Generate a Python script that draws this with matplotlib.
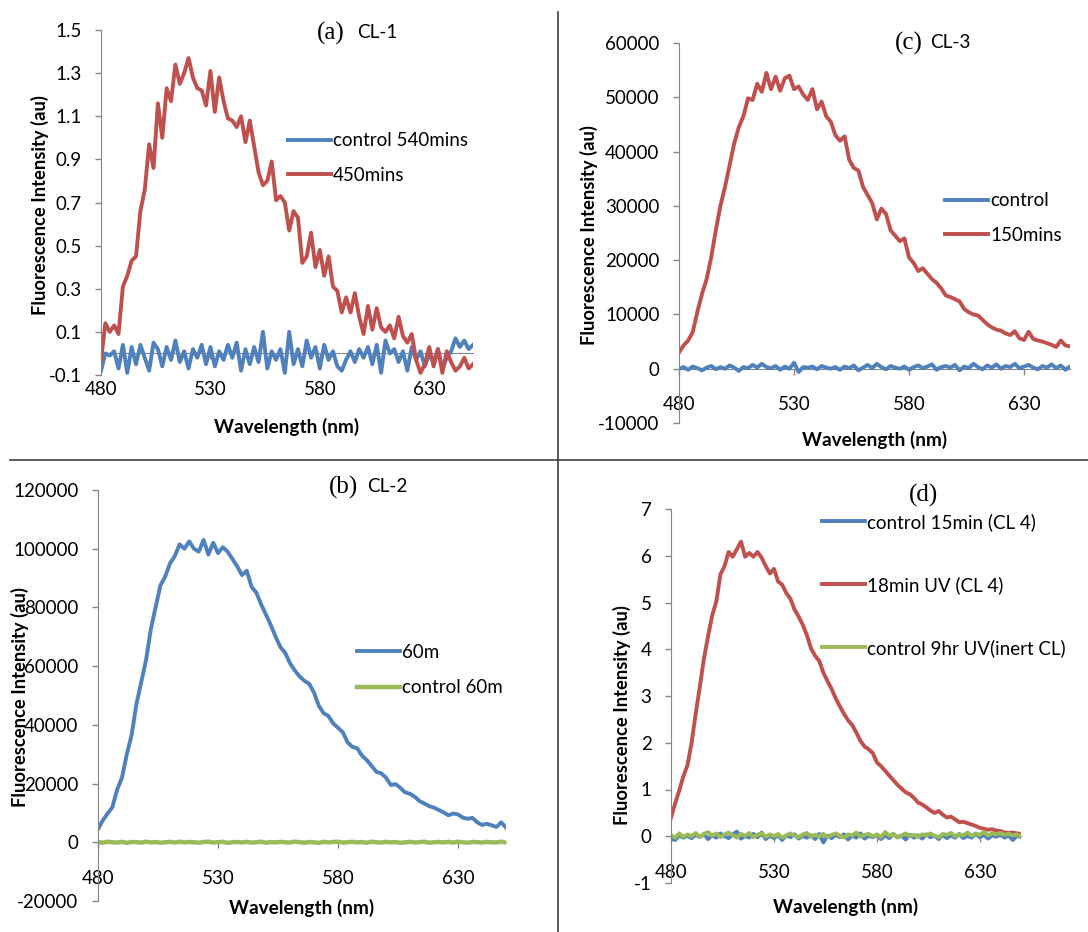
import numpy as np
import matplotlib
matplotlib.use('Agg')
import matplotlib.pyplot as plt
from matplotlib.lines import Line2D

plt.rcParams['font.family'] = ['Lato', 'DejaVu Sans']
plt.rcParams['axes.unicode_minus'] = False

# longitud de onda (nm), paso de 2 nm
wl = np.arange(480, 652, 2)
x_ticks = [480, 530, 580, 630]

# (a) CL-1
a_control = [-0.08, 0.00, -0.01, 0.01, -0.07, 0.04, -0.09, 0.03, -0.05, 0.04,
             -0.02, -0.08, 0.05, 0.02, -0.06, 0.03, -0.03, 0.06, -0.04, 0.01,
             -0.07, 0.02, -0.02, 0.04, -0.05, 0.03, -0.06, 0.01, -0.03, 0.04,
             -0.02, 0.05, -0.08, 0.02, -0.05, 0.03, -0.04, 0.10, -0.07, 0.01,
             -0.03, 0.02, -0.09, 0.10, -0.05, 0.02, -0.06, 0.06, -0.02, 0.03,
             -0.07, 0.04, -0.03, 0.01, -0.06, -0.08, -0.03, 0.01, -0.04, 0.02,
             -0.02, 0.03, -0.05, 0.04, -0.09, 0.06, 0.00, 0.02, -0.04, 0.01,
             -0.08, 0.03, -0.03, 0.01, -0.06, 0.00, -0.04, 0.02, -0.07, -0.02,
             0.01, 0.07, 0.03, 0.06, 0.02, 0.04]
a_450 = [-0.03, 0.14, 0.10, 0.13, 0.09, 0.31, 0.36, 0.43, 0.45, 0.66,
         0.76, 0.97, 0.86, 1.16, 1.00, 1.23, 1.17, 1.34, 1.25, 1.30,
         1.37, 1.28, 1.23, 1.22, 1.15, 1.31, 1.12, 1.28, 1.17, 1.09,
         1.08, 1.05, 1.10, 0.98, 1.08, 0.96, 0.84, 0.78, 0.80, 0.89,
         0.71, 0.73, 0.70, 0.57, 0.66, 0.63, 0.42, 0.45, 0.56, 0.40,
         0.48, 0.36, 0.45, 0.31, 0.29, 0.19, 0.26, 0.19, 0.28, 0.17,
         0.09, 0.22, 0.11, 0.21, 0.12, 0.10, 0.13, 0.07, 0.17, 0.08,
         0.05, 0.09, -0.03, -0.09, -0.05, 0.03, -0.06, 0.02, -0.09, 0.01,
         -0.04, -0.08, -0.06, -0.02, -0.07, -0.05]

# (b) CL-2
b_60m = [4500, 7500, 9800, 12000, 18000, 22000, 30000, 36500, 47000, 54500,
         62000, 72500, 80000, 87500, 90500, 95000, 97500, 101500, 100000, 102500,
         100000, 99000, 103000, 98000, 102000, 98500, 100500, 99000, 96500, 94000,
         91000, 92500, 87000, 85000, 81000, 77500, 74000, 70000, 66500, 64500,
         61000, 58500, 56500, 55000, 54000, 51000, 46500, 44000, 43000, 40500,
         39000, 37500, 34000, 32500, 32000, 29500, 28000, 26000, 24000, 23500,
         22000, 19500, 19800, 18500, 17000, 16500, 15500, 14000, 13200, 12300,
         11800, 11000, 10200, 9200, 9800, 9500, 8400, 8000, 8300, 6800,
         5900, 6300, 5800, 5200, 6800, 5000]
b_control = [100, -150, 200, 0, -100, 150, -200, 100, 50, -100,
             200, -50, 100, -150, 0, 150, -100, 200, -50, 100,
             0, -150, 100, 200, -100, 50, 150, -200, 0, 100,
             -50, 150, -100, 0, 200, -150, 100, -50, 150, 0,
             -100, 200, 50, -150, 100, 0, -200, 150, -50, 100,
             200, -100, 0, 150, -50, 100, -150, 200, 0, -100,
             150, -50, 100, -200, 0, 150, -100, 50, 200, -150,
             0, 100, -50, 150, -100, 200, 0, -150, 100, 50,
             -100, 150, 0, -50, 200, -100]

# (c) CL-3
c_control = [0, 300, -200, 400, 100, -300, 200, 500, -100, 300,
             0, 600, 200, -400, 300, 100, 700, 200, 900, 300,
             100, 500, -200, 400, 0, 1100, -600, 300, 200, 400,
             -100, 500, 200, 0, 300, -200, 400, 100, 600, -300,
             200, 700, 100, 900, 300, -100, 500, 200, 0, 400,
             -200, 300, 600, 100, 400, 800, -200, 300, 500, 200,
             700, -300, 400, 100, 900, 300, -100, 600, 200, 800,
             0, 500, 300, 900, 100, 400, 700, 200, -100, 500,
             200, 800, 100, 600, -200, 400]
c_150 = [3000, 4300, 5200, 6800, 10500, 13800, 16500, 20500, 25500, 30000,
         33500, 37500, 41500, 44500, 46500, 49800, 49500, 52500, 51000, 54500,
         51500, 53800, 51200, 53500, 54000, 51500, 52000, 50500, 49500, 51500,
         47800, 49200, 46500, 45500, 43000, 42000, 42800, 38500, 37000, 36500,
         33500, 32000, 30500, 27500, 29500, 28500, 25500, 24500, 23500, 24000,
         20500, 19500, 18000, 18500, 17500, 16500, 15800, 14800, 13500, 13200,
         12800, 12400, 11000, 10400, 10000, 9800, 9000, 8200, 7600, 7200,
         7000, 6500, 6200, 6900, 5600, 5300, 6800, 5500, 5200, 5000,
         4700, 4400, 4000, 5200, 4300, 4100]

# (d) CL 4
d_control15 = [-0.05, -0.08, 0.02, -0.03, 0.01, -0.04, 0.03, -0.02, 0.05, -0.06,
               0.02, -0.03, 0.06, 0.00, -0.04, 0.04, 0.10, -0.05, 0.01, -0.03,
               0.05, -0.02, 0.08, -0.06, 0.01, -0.04, 0.03, -0.08, 0.02, -0.02,
               0.04, -0.05, 0.01, -0.03, 0.02, -0.06, 0.05, -0.13, 0.01, -0.04,
               0.03, -0.02, 0.04, -0.07, 0.02, -0.03, 0.06, -0.05, 0.01, -0.02,
               0.03, -0.06, 0.02, -0.04, 0.05, -0.02, 0.01, -0.07, 0.03, -0.03,
               0.02, -0.05, 0.04, -0.02, 0.01, -0.06, 0.03, -0.04, 0.02, -0.03,
               0.05, -0.04, 0.01, -0.03, 0.06, -0.02, 0.03, -0.05, 0.02, -0.01,
               0.04, -0.03, 0.02, -0.08, 0.01, -0.02]
d_18uv = [0.40, 0.70, 0.98, 1.28, 1.52, 2.00, 2.62, 3.20, 3.80, 4.28,
          4.72, 5.02, 5.60, 5.78, 6.08, 5.98, 6.14, 6.30, 5.98, 6.06,
          5.98, 6.08, 5.96, 5.78, 5.62, 5.72, 5.45, 5.38, 5.20, 5.08,
          4.85, 4.70, 4.52, 4.30, 4.02, 3.86, 3.75, 3.50, 3.32, 3.15,
          2.95, 2.78, 2.62, 2.48, 2.38, 2.22, 2.04, 1.92, 1.86, 1.78,
          1.58, 1.50, 1.40, 1.30, 1.20, 1.10, 1.02, 0.94, 0.90, 0.82,
          0.72, 0.68, 0.62, 0.55, 0.50, 0.54, 0.46, 0.40, 0.42, 0.36,
          0.30, 0.31, 0.28, 0.25, 0.22, 0.18, 0.16, 0.14, 0.15, 0.12,
          0.11, 0.08, 0.07, 0.08, 0.06, 0.05]
d_inert = [0.02, -0.03, 0.06, -0.01, 0.04, 0.00, 0.07, -0.02, 0.05, 0.09,
           0.01, 0.06, -0.02, 0.04, 0.08, 0.02, -0.03, 0.05, 0.01, 0.07,
           -0.02, 0.03, 0.06, -0.01, 0.04, 0.00, 0.05, -0.03, 0.02, 0.06,
           0.01, -0.02, 0.04, 0.07, -0.01, 0.03, 0.00, 0.05, -0.02, 0.03,
           0.06, 0.01, -0.03, 0.04, 0.02, 0.08, -0.01, 0.03, 0.05, 0.00,
           0.04, -0.02, 0.09, 0.01, 0.05, -0.03, 0.02, 0.06, 0.00, 0.03,
           -0.01, 0.04, 0.02, 0.06, 0.01, -0.02, 0.05, 0.03, 0.07, 0.00,
           0.04, 0.02, 0.08, 0.01, 0.05, 0.03, 0.09, 0.02, 0.06, 0.04,
           0.07, 0.03, 0.05, 0.02, 0.04, -0.01]

BLUE = '#4F81BD'
RED = '#C0504D'
GREEN = '#9BBB59'
GRAY = '#868686'
LW = 2.8

W, H = 1088, 932
fig = plt.figure(figsize=(W / 100, H / 100), dpi=100)


def caja(l, t, r, b):
    # rectangulo en pixeles -> coordenadas de figura
    return [l / W, 1 - b / H, (r - l) / W, (b - t) / H]


def pt(x, y):
    return (x / W, 1 - y / H)


def preparar(ax, ylim, paso, fmt, xlab_y, ylab_xy):
    ax.set_xlim(480, 650)
    ax.set_ylim(*ylim)
    ticks = np.arange(ylim[0], ylim[1] + paso / 2, paso)
    ax.set_yticks(ticks)
    ax.set_yticklabels([fmt(t) for t in ticks])
    ax.set_xticks(x_ticks)
    ax.set_xticklabels([str(t) for t in x_ticks])
    for s in ('top', 'right'):
        ax.spines[s].set_visible(False)
    ax.spines['left'].set_color(GRAY)
    ax.spines['bottom'].set_position(('data', 0))
    ax.spines['bottom'].set_color(GRAY)
    ax.spines['bottom'].set_zorder(1)
    ax.tick_params(axis='both', colors=GRAY, labelcolor='black', labelsize=13.5,
                   direction='out', length=4, width=1)
    ax.tick_params(axis='y', pad=10)
    ax.tick_params(axis='x', pad=16)
    ax.set_xlabel('Wavelength (nm)', fontsize=13.7, fontweight='bold')
    ax.xaxis.label.set_va('center')
    ax.xaxis.set_label_coords(0.5, xlab_y)
    ax.set_ylabel('Fluorescence Intensity (au)', fontsize=13.2, fontweight='bold')
    ax.yaxis.label.set_va('center')
    ax.yaxis.set_label_coords(*ylab_xy)


def leyenda(ax, x, y, espacio):
    ax.legend(loc='center left', bbox_to_anchor=pt(x, y), bbox_transform=fig.transFigure,
              frameon=False, fontsize=13.5, handlelength=2.3, handletextpad=0.1,
              labelspacing=espacio, borderpad=0, borderaxespad=0)


def titulo(x_letra, x_texto, y, letra, texto):
    fig.text(*pt(x_letra, y), letra, family='Liberation Serif', fontsize=18, ha='center', va='center')
    if texto:
        fig.text(*pt(x_texto, y), texto, fontsize=13.7, ha='left', va='center')


# (a)
ax_a = fig.add_axes(caja(101, 30, 473, 375))
ax_a.plot(wl, a_control, color=BLUE, lw=LW, label='control 540mins')
ax_a.plot(wl, a_450, color=RED, lw=LW, label='450mins')
preparar(ax_a, (-0.1, 1.5), 0.2, lambda t: f'{t:.1f}', -0.151, (-0.164, 0.493))
leyenda(ax_a, 288, 158, 0.95)
titulo(331, 357, 33, '(a)', 'CL-1')

# (c)
ax_c = fig.add_axes(caja(679, 43, 1070, 423))
ax_c.plot(wl, c_control, color=BLUE, lw=LW, label='control')
ax_c.plot(wl, c_150, color=RED, lw=LW, label='150mins')
preparar(ax_c, (-10000, 60000), 10000, lambda t: f'{int(t)}', -0.045, (-0.230, 0.495))
leyenda(ax_c, 945, 218, 0.95)
titulo(909, 930, 43, '(c)', 'CL-3')

# (b)
ax_b = fig.add_axes(caja(98, 490, 506, 901))
ax_b.plot(wl, b_60m, color=BLUE, lw=LW, label='60m')
ax_b.plot(wl, b_control, color=GREEN, lw=LW + 0.4, label='control 60m')
preparar(ax_b, (-20000, 120000), 20000, lambda t: f'{int(t)}', -0.017, (-0.191, 0.496))
leyenda(ax_b, 357, 670, 1.0)
titulo(344, 367, 487, '(b)', 'CL-2')

# (d)
ax_d = fig.add_axes(caja(671, 509, 1021, 883))
ax_d.plot(wl, d_control15, color=BLUE, lw=LW, label='control 15min (CL 4)')
ax_d.plot(wl, d_18uv, color=RED, lw=LW, label='18min UV (CL 4)')
ax_d.plot(wl, d_inert, color=GREEN, lw=LW, label='control 9hr UV(inert CL)')
preparar(ax_d, (-1, 7), 1, lambda t: f'{int(t)}', -0.064, (-0.14, 0.449))
leyenda(ax_d, 822, 585, 2.4)
titulo(923, 0, 495, '(d)', '')

# lineas que separan los cuatro paneles
fig.add_artist(Line2D([557.5 / W, 557.5 / W], [1 - 12 / H, 0], transform=fig.transFigure,
                      color='#404040', lw=1.2))
fig.add_artist(Line2D([10 / W, 1], [1 - 460 / H, 1 - 460 / H], transform=fig.transFigure,
                      color='#404040', lw=1.2))

fig.savefig('out.png', dpi=100)
